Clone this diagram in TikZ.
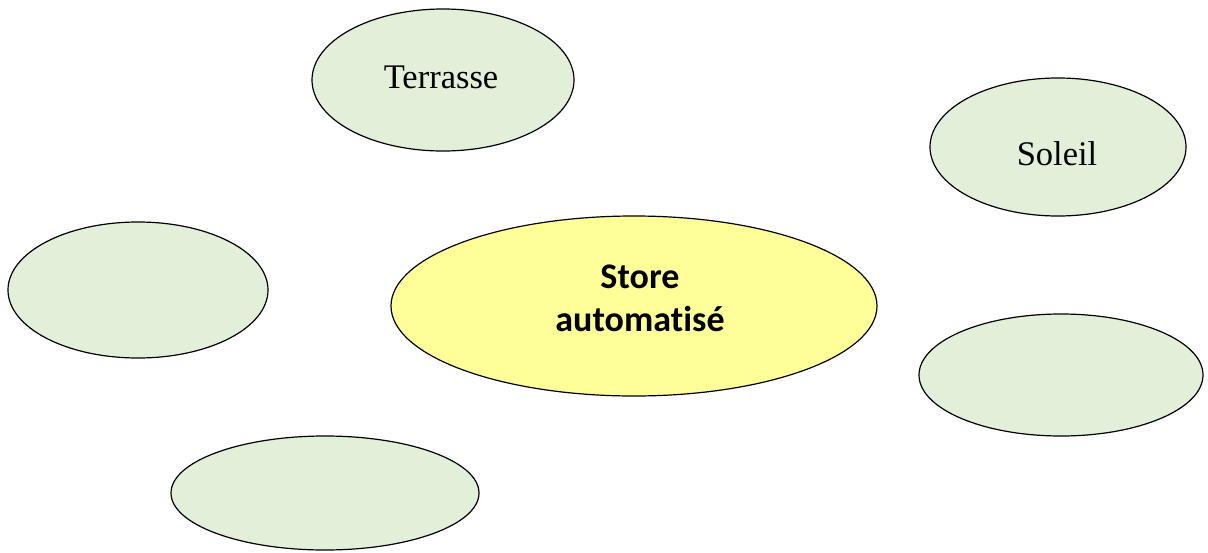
\documentclass[tikz,border=0pt]{standalone}
\usepackage{fontspec}
\setmainfont{Liberation Serif}
\newfontfamily\carlito[Ligatures=NoCommon]{Carlito}
\definecolor{lgreen}{HTML}{E2EFD9}
\definecolor{lyellow}{HTML}{FFFF99}
\begin{document}
\begin{tikzpicture}[x=1pt,y=-1pt,
  bubble/.style={draw=black,line width=1.2pt,fill=lgreen},
  centre/.style={draw=black,line width=1.2pt,fill=lyellow},
  label/.style={font=\fontsize{34.5}{40}\selectfont}]
\useasboundingbox (0,0) rectangle (1208,552);
\fill[white] (0,0) rectangle (1208,552);
\filldraw[bubble] (443,80) ellipse [x radius=131, y radius=71];
\filldraw[bubble] (1058,147) ellipse [x radius=128, y radius=69];
\filldraw[bubble] (138,290) ellipse [x radius=130, y radius=68];
\filldraw[centre] (634,306) ellipse [x radius=243, y radius=90];
\filldraw[bubble] (1061,375) ellipse [x radius=142, y radius=61];
\filldraw[bubble] (325,493) ellipse [x radius=154, y radius=57];
\node[label] (terrasse) at (441,77) {Terrasse};
\node[label] (soleil) at (1057,154) {Soleil};
\node[align=center,font=\carlito\bfseries\fontsize{36}{43}\selectfont] (store) at (640,298) {Store\\automatisé};
\end{tikzpicture}
\end{document}
